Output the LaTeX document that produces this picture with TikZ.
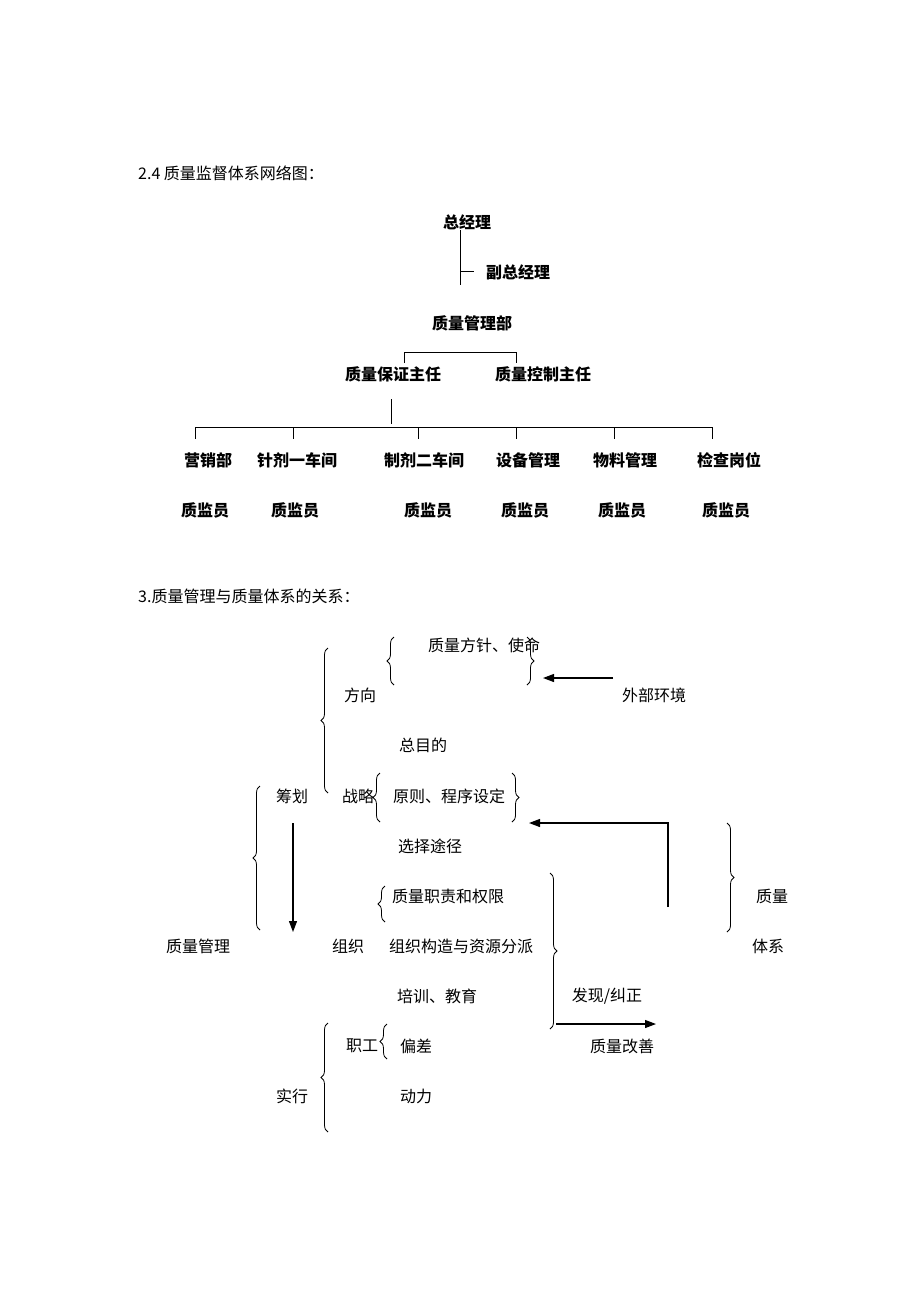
\documentclass[tikz,border=0pt]{standalone}
\usepackage{fontspec}
\setmainfont{Liberation Serif}
\newfontfamily\cjk{Noto Sans CJK SC}
\usetikzlibrary{decorations.pathreplacing,arrows.meta}
\begin{document}
\begin{tikzpicture}[x=1pt,y=-1pt,
  t/.style={font=\cjk\fontsize{16}{18}\selectfont,inner sep=0pt},
  b/.style={font=\cjk\bfseries\fontsize{16}{18}\selectfont,inner sep=0pt},
  ln/.style={line width=0.9pt},
  br/.style={line width=0.8pt,decorate,decoration={brace,amplitude=7pt}},
  ar/.style={line width=1.2pt,-{Triangle[length=11pt,width=8pt]}}]
\useasboundingbox (0,0) rectangle (920,1302);
% ---- part 1
\node[t,anchor=west] (h1) at (138,173) {2.4 质量监督体系网络图：};
\node[b] (gm) at (467,222) {总经理};
\node[b] (vgm) at (518,272) {副总经理};
\coordinate (l1a) at (460,230); \coordinate (l1b) at (460,285);
\coordinate (t1a) at (460,271); \coordinate (t1b) at (474,271);
\draw[ln] (l1a) -- (l1b); \draw[ln] (t1a) -- (t1b);
\node[b] (qmd) at (472,323) {质量管理部};
\node[b] (qa) at (393,374) {质量保证主任};
\node[b] (qc) at (543,374) {质量控制主任};
\coordinate (ba) at (404,363); \coordinate (bb) at (516,363);
\draw[ln] (ba) -- (404,352) -- (516,352) -- (bb);
\coordinate (va) at (391,399); \coordinate (vb) at (391,424);
\draw[ln] (va) -- (vb);
\draw[ln] (195,427) -- (712,427);
\foreach \x in {195,293,418,516,614,712} \draw[ln] (\x,427) -- (\x,439);
\node[b] (d1) at (208,460) {营销部};
\node[b] (d2) at (297,460) {针剂一车间};
\node[b] (d3) at (424,460) {制剂二车间};
\node[b] (d4) at (528,460) {设备管理};
\node[b] (d5) at (625,460) {物料管理};
\node[b] (d6) at (729,460) {检查岗位};
\node[b] (s1) at (205,510) {质监员};
\node[b] (s2) at (295,510) {质监员};
\node[b] (s3) at (428,510) {质监员};
\node[b] (s4) at (525,510) {质监员};
\node[b] (s5) at (622,510) {质监员};
\node[b] (s6) at (726,510) {质监员};
% ---- part 2
\node[t,anchor=west] (h2) at (138,596) {3.质量管理与质量体系的关系：};
\node[t] (fz) at (484,645) {质量方针、使命};
\node[t] (wb) at (654,695) {外部环境};
\node[t] (fx) at (360,695) {方向};
\node[t] (zm) at (423,745) {总目的};
\node[t] (ch) at (292,796) {筹划};
\node[t] (zl) at (358,796) {战略};
\node[t] (yz) at (449,796) {原则、程序设定};
\node[t] (xz) at (430,846) {选择途径};
\node[t] (zz) at (448,896) {质量职责和权限};
\node[t] (zl2) at (772,896) {质量};
\node[t] (qm) at (198,946) {质量管理};
\node[t] (org) at (348,946) {组织};
\node[t] (jg) at (461,946) {组织构造与资源分派};
\node[t] (tx) at (768,946) {体系};
\node[t] (px) at (437,996) {培训、教育};
\node[t] (fxjz) at (607,996) {发现/纠正};
\node[t] (zg) at (362,1046) {职工};
\node[t] (pc) at (416,1046) {偏差};
\node[t] (gs) at (622,1046) {质量改善};
\node[t] (sx) at (292,1096) {实行};
\node[t] (dl) at (416,1096) {动力};
% braces
\draw[br] (328,793) -- (328,648);
\draw[br] (394,685) -- (394,637);
\draw[br] (527,637) -- (527,685);
\draw[br] (380,822) -- (380,773);
\draw[br] (512,773) -- (512,822);
\draw[br] (260,930) -- (260,786);
\draw[br] (727,823) -- (727,932);
\draw[br] (385,922) -- (385,886);
\draw[br] (550,873) -- (550,1029);
\draw[br] (387,1059) -- (387,1024);
\draw[br] (328,1132) -- (328,1023);
% arrows
\coordinate (a1s) at (613,678); \coordinate (a1e) at (543,678);
\draw[ar] (a1s) -- (a1e);
\coordinate (a2s) at (293,823); \coordinate (a2e) at (293,932);
\draw[ar] (a2s) -- (a2e);
\coordinate (a3s) at (668,907); \coordinate (a3e) at (529,823);
\draw[ar] (a3s) -- (668,823) -- (a3e);
\coordinate (a4s) at (556,1024); \coordinate (a4e) at (656,1024);
\draw[ar] (a4s) -- (a4e);
\end{tikzpicture}
\end{document}
